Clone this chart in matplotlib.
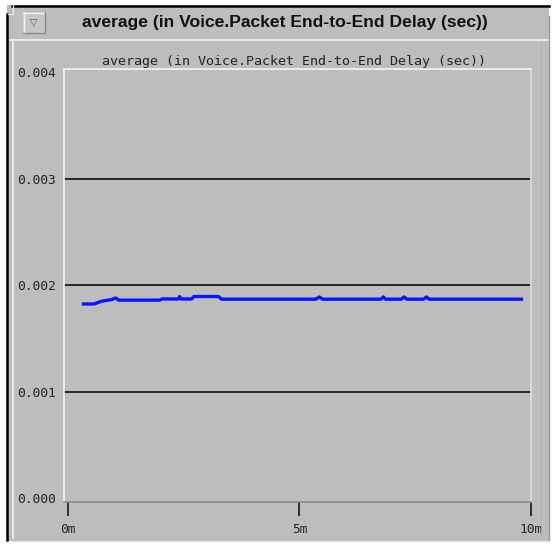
import matplotlib
matplotlib.use("Agg")
import matplotlib.pyplot as plt
from matplotlib.patches import Rectangle
from matplotlib.lines import Line2D

W, H = 557, 548

# sampled curve (minutes, seconds)
t_min = [0.30, 0.56, 0.73, 0.95, 1.03, 1.10, 1.98, 2.03, 2.39, 2.41, 2.45, 2.67, 2.72,
         3.25, 3.32, 5.35, 5.43, 5.50, 6.76, 6.81, 6.86, 7.20, 7.26, 7.32, 7.68, 7.74,
         7.80, 9.83]
delay = [0.001824, 0.001824, 0.00185, 0.001866, 0.00188, 0.00186, 0.00186, 0.001871,
         0.001871, 0.001893, 0.001871, 0.001871, 0.001894, 0.001894, 0.001869,
         0.001869, 0.00189, 0.001869, 0.001869, 0.00189, 0.001869, 0.001869, 0.00189,
         0.001869, 0.001869, 0.00189, 0.001869, 0.001869]
y_ticks = [0.000, 0.001, 0.002, 0.003, 0.004]
y_labels = ["0.000", "0.001", "0.002", "0.003", "0.004"]
x_ticks = [0, 5, 10]
x_labels = ["0m", "5m", "10m"]
title = "average (in Voice.Packet End-to-End Delay (sec))"

GRAY = "#bdbdbd"


def fx(x):
    return x / W


def fy(y):
    return 1 - y / H


def box(x0, y0, x1, y1, color, z=0):
    fig.add_artist(Rectangle((fx(x0), fy(y1)), fx(x1) - fx(x0), fy(y0) - fy(y1),
                             transform=fig.transFigure, facecolor=color,
                             edgecolor="none", zorder=z))


def hline(x0, x1, y, color, lw):
    fig.add_artist(Line2D([fx(x0), fx(x1)], [fy(y), fy(y)], transform=fig.transFigure,
                          color=color, lw=lw, zorder=2))


def vline(x, y0, y1, color, lw):
    fig.add_artist(Line2D([fx(x), fx(x)], [fy(y0), fy(y1)], transform=fig.transFigure,
                          color=color, lw=lw, zorder=2))


fig = plt.figure(figsize=(W / 100, H / 100), dpi=100)
fig.patch.set_facecolor("white")

# window frame
box(7, 5, 549, 541, GRAY)
hline(12, 549, 5.5, "black", 1.8)
vline(7, 14, 540, "black", 1.8)
hline(8, 13, 14, "#e8e8e8", 1)
vline(13, 5, 14, "#e8e8e8", 1)
hline(10, 549, 40, "#f2f2f2", 1.2)
vline(549, 16, 541, "#9a9a9a", 1)
vline(13, 42, 538, "#f2f2f2", 1.2)
hline(13, 549, 541, "#e0e0e0", 1)
vline(541, 42, 538, "#b0b0b0", 0.6)

# dropdown button
box(23, 12, 45, 33, "#c6c6c6", 1)
hline(23, 45, 12.5, "#f4f4f4", 1)
vline(23.5, 12, 33, "#f4f4f4", 1)
hline(23, 45, 33, "#8a8a8a", 1)
vline(45, 12, 33, "#8a8a8a", 1)
fig.text(fx(34), fy(23), "\u25bd", ha="center", va="center", fontsize=7,
         color="#555555", family="DejaVu Sans")

fig.text(fx(285), fy(22), title, ha="center", va="center", fontsize=12.6,
         fontweight="bold", family="Liberation Sans", color="#111111")
fig.text(fx(294), fy(61), title, ha="center", va="center", fontsize=9.6,
         family="DejaVu Sans Mono", color="#222222")

# plot area
ax = fig.add_axes([fx(64), fy(502), fx(531) - fx(64), fy(69) - fy(502)])
ax.set_facecolor(GRAY)
ax.set_xlim(-0.085, 10.0)
ax.set_ylim(-0.000035, 0.004030)
for y in y_ticks[1:4]:
    ax.axhline(y, color="black", lw=1.1, zorder=1)
ax.plot(t_min, delay, color="#0a14ff", lw=2.4, zorder=3, solid_capstyle="butt")

ax.spines["left"].set_color("#f4f4f4")
ax.spines["top"].set_color("#f4f4f4")
ax.spines["right"].set_color("#dedede")
ax.spines["bottom"].set_color("#8c8c8c")
for s in ax.spines.values():
    s.set_linewidth(1.2)

ax.set_yticks(y_ticks)
ax.set_yticklabels(y_labels, family="DejaVu Sans Mono", fontsize=9.3, color="#222222")
ax.tick_params(axis="y", length=0, pad=6)
ax.set_xticks(x_ticks)
ax.set_xticklabels(x_labels, family="DejaVu Sans Mono", fontsize=9.3, color="#222222")
ax.tick_params(axis="x", direction="out", length=10, width=1.3, color="#222222", pad=5)

fig.savefig("out.png", dpi=100, facecolor=fig.get_facecolor())
